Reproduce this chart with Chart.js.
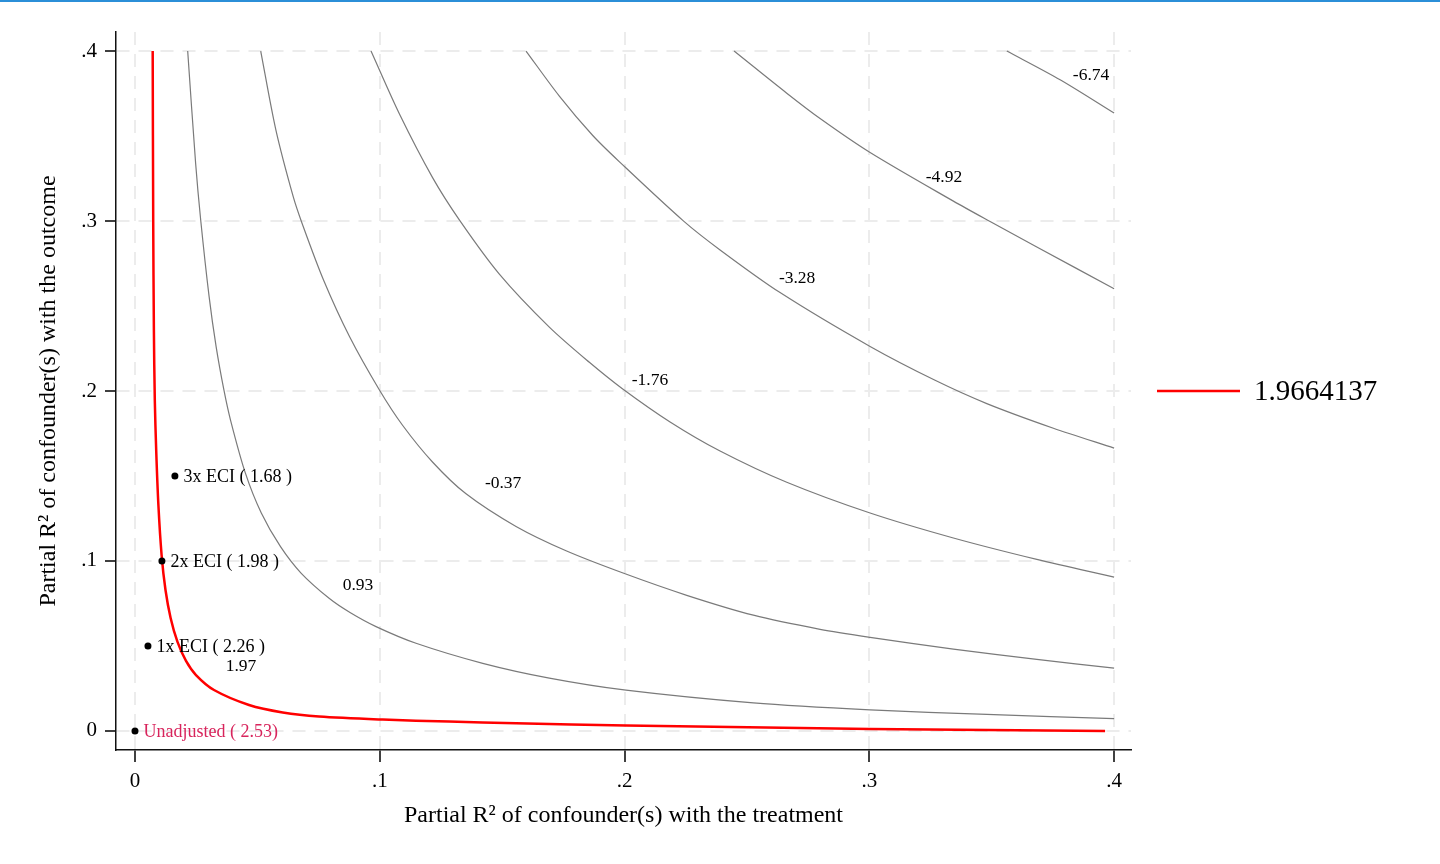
<!DOCTYPE html>
<html lang="en">
<head>
<meta charset="UTF-8">
<title>Sensitivity contour plot</title>
<script src="https://cdn.jsdelivr.net/npm/chart.js"></script>
<style>
  html, body { margin: 0; padding: 0; background: #fff; }
  #wrap { position: absolute; left: 0; top: 0; width: 1440px; height: 864px; }
  #topline { position: absolute; left: 0; top: 0; width: 1440px; height: 2px; background: #2b8fd8; }
</style>
</head>
<body>
<div id="wrap"><canvas id="chart" width="1440" height="864"></canvas></div>
<div id="topline"></div>
<script>
// tick values
const xTicks = [0, 0.1, 0.2, 0.3, 0.4];
const yTicks = [0, 0.1, 0.2, 0.3, 0.4];

// threshold curve (red)
const thresholdName = '1.9664137';
const thresholdCurve = [
  [0.00723, 0.4], [0.00744, 0.3006], [0.00772, 0.2359], [0.00809, 0.1947], [0.00866, 0.1653],
  [0.00956, 0.1329], [0.01087, 0.1035], [0.01246, 0.0829], [0.01455, 0.0665], [0.01736, 0.0524],
  [0.02084, 0.0412], [0.02492, 0.0329], [0.03228, 0.0241], [0.04658, 0.0153], [0.06035, 0.0109],
  [0.07518, 0.0085], [0.10121, 0.0067], [0.12829, 0.0055], [0.15567, 0.0046], [0.20061, 0.0032],
  [0.30031, 0.0012], [0.39632, 0.0]
];

// grey contour lines
const contour093 = [
  [0.02153, 0.4], [0.02476, 0.3341], [0.02684, 0.3006], [0.03028, 0.2555], [0.03314, 0.2261],
  [0.03632, 0.2006], [0.03902, 0.1829], [0.04507, 0.1518], [0.0516, 0.1282], [0.05945, 0.1084],
  [0.06783, 0.0929], [0.07943, 0.0779], [0.08784, 0.0697], [0.09847, 0.0614], [0.11481, 0.0516],
  [0.14206, 0.0398], [0.16927, 0.0311], [0.20061, 0.024], [0.25262, 0.0165], [0.30031, 0.0124],
  [0.34799, 0.0097], [0.4, 0.0072]
];
const contourM037 = [
  [0.05136, 0.4], [0.05757, 0.3535], [0.06464, 0.3143], [0.06824, 0.2987], [0.07702, 0.2653],
  [0.08768, 0.2319], [0.09986, 0.2006], [0.10938, 0.1797], [0.12163, 0.1581], [0.13524, 0.1395],
  [0.15567, 0.1203], [0.1761, 0.106], [0.19939, 0.0929], [0.22541, 0.0798], [0.25263, 0.0681],
  [0.27988, 0.0598], [0.30031, 0.0551], [0.33434, 0.0482], [0.36842, 0.0421], [0.4, 0.037]
];
const contourM176 = [
  [0.09642, 0.4], [0.10799, 0.3631], [0.12163, 0.3254], [0.1325, 0.3007], [0.14885, 0.2688],
  [0.16927, 0.2376], [0.18562, 0.2169], [0.19898, 0.2015], [0.2186, 0.1818], [0.23902, 0.1647],
  [0.26627, 0.1463], [0.30031, 0.1282], [0.33434, 0.1135], [0.36842, 0.1009], [0.4, 0.0905]
];
const contourM328 = [
  [0.15975, 0.4], [0.17336, 0.3735], [0.18701, 0.3503], [0.19816, 0.3345], [0.22402, 0.3001],
  [0.23902, 0.283], [0.26353, 0.2579], [0.30031, 0.2262], [0.32686, 0.2063], [0.34799, 0.1926],
  [0.3752, 0.1781], [0.4, 0.1664]
];
const contourM492 = [
  [0.24474, 0.4], [0.26627, 0.3752], [0.27988, 0.3603], [0.30031, 0.3403], [0.33434, 0.3117],
  [0.34934, 0.2997], [0.36842, 0.2847], [0.4, 0.2602]
];
const contourM674 = [
  [0.35616, 0.4], [0.37794, 0.3831], [0.4, 0.3635]
];

// contour labels
const contourLabels = ['1.97', '0.93', '-0.37', '-1.76', '-3.28', '-4.92', '-6.74'];
const contourLabelX = [0.0433, 0.0911, 0.1504, 0.2104, 0.2705, 0.3305, 0.3906];
const contourLabelY = [0.0382, 0.0859, 0.1459, 0.2065, 0.2665, 0.3259, 0.3859];

// benchmark points
const benchLabels = ['Unadjusted ( 2.53)', '1x ECI ( 2.26 )', '2x ECI ( 1.98 )', '3x ECI ( 1.68 )'];
const benchX = [0, 0.0053, 0.011, 0.0163];
const benchY = [0, 0.05, 0.1, 0.15];

const serif = '"Liberation Serif", "Times New Roman", serif';
const toPts = arr => arr.map(p => ({x: p[0], y: p[1]}));

function greyLine(pts) {
    return {
        data: toPts(pts),
        showLine: true,
        borderColor: '#7a7a7a',
        borderWidth: 1.2,
        pointRadius: 0,
        tension: 0.3,
        order: 3
    };
}

const tickFmt = v => (v === 0 ? '0' : v.toFixed(1).replace(/^0/, ''));

const overlay = {
    id: 'overlay',
    afterDatasetsDraw(chart) {
        const {ctx, chartArea, scales: {x, y}} = chart;
        ctx.save();
        // contour labels
        ctx.font = '17.5px ' + serif;
        ctx.textAlign = 'center';
        ctx.textBaseline = 'middle';
        ctx.fillStyle = '#000';
        contourLabels.forEach((t, i) => {
            ctx.fillText(t, x.getPixelForValue(contourLabelX[i]), y.getPixelForValue(contourLabelY[i]));
        });
        // benchmark labels
        ctx.font = '18px ' + serif;
        ctx.textAlign = 'left';
        benchLabels.forEach((t, i) => {
            ctx.fillStyle = i === 0 ? '#d8245c' : '#000';
            ctx.fillText(t, x.getPixelForValue(benchX[i]) + 8.5, y.getPixelForValue(benchY[i]) + 1);
        });
        // axis titles
        ctx.fillStyle = '#000';
        ctx.font = '24px ' + serif;
        ctx.textAlign = 'center';
        const cx = (chartArea.left + chartArea.right) / 2;
        const cy = (chartArea.top + chartArea.bottom) / 2;
        ctx.fillText('Partial R\u00B2 of confounder(s) with the treatment', cx, chartArea.bottom + 66);
        ctx.save();
        ctx.translate(chartArea.left - 67, cy);
        ctx.rotate(-Math.PI / 2);
        ctx.fillText('Partial R\u00B2 of confounder(s) with the outcome', 0, 0);
        ctx.restore();
        // legend
        ctx.strokeStyle = '#ff0000';
        ctx.lineWidth = 2.5;
        ctx.beginPath();
        ctx.moveTo(chartArea.right + 26, cy);
        ctx.lineTo(chartArea.right + 109, cy);
        ctx.stroke();
        ctx.font = '29px ' + serif;
        ctx.textAlign = 'left';
        ctx.fillText(thresholdName, chartArea.right + 123, cy + 1);
        ctx.restore();
    }
};

new Chart(document.getElementById('chart'), {
    type: 'scatter',
    data: {
        datasets: [
            {
                data: toPts(thresholdCurve),
                showLine: true,
                borderColor: '#ff0000',
                borderWidth: 2.5,
                pointRadius: 0,
                tension: 0.3,
                order: 2
            },
            greyLine(contour093),
            greyLine(contourM037),
            greyLine(contourM176),
            greyLine(contourM328),
            greyLine(contourM492),
            greyLine(contourM674),
            {
                data: benchX.map((v, i) => ({x: v, y: benchY[i]})),
                pointRadius: 3.5,
                pointBackgroundColor: '#000',
                pointBorderWidth: 0,
                order: 1
            }
        ]
    },
    options: {
        responsive: false,
        animation: false,
        layout: {padding: {top: 32, right: 309, left: 0, bottom: 0}},
        plugins: {legend: {display: false}, tooltip: {enabled: false}},
        scales: {
            x: {
                type: 'linear',
                min: -0.00776,
                max: 0.4069,
                afterFit: s => { s.height = 114; },
                afterBuildTicks: s => { s.ticks = xTicks.map(v => ({value: v})); },
                grid: {color: '#ececec', lineWidth: 2, tickColor: '#000', tickWidth: 1.5, tickLength: 12},
                border: {color: '#111', width: 1.5, dash: [13, 9]},
                ticks: {color: '#000', font: {family: serif, size: 21}, padding: 7, maxRotation: 0, callback: tickFmt}
            },
            y: {
                type: 'linear',
                min: -0.0112,
                max: 0.4112,
                afterFit: s => { s.width = 116; },
                afterBuildTicks: s => { s.ticks = yTicks.map(v => ({value: v})); },
                grid: {color: '#ececec', lineWidth: 2, tickColor: '#000', tickWidth: 1.5, tickLength: 11},
                border: {color: '#111', width: 1.5, dash: [13, 9]},
                ticks: {color: '#000', font: {family: serif, size: 21}, padding: 8, callback: tickFmt}
            }
        }
    },
    plugins: [overlay]
});
</script>
</body>
</html>
